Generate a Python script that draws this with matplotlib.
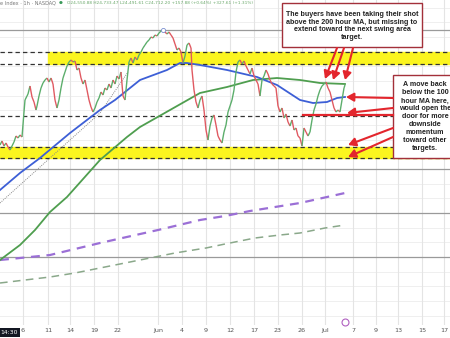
import numpy as np
import matplotlib
matplotlib.use("Agg")
import matplotlib.pyplot as plt
from matplotlib.collections import LineCollection
from matplotlib.patches import Rectangle

# chart units: x = horizontal position along the time axis, y = level (top = 0)
tick_x = [23, 48, 70, 94, 118, 158, 182, 206, 230, 254, 278, 302, 325, 353, 376, 398, 422, 444]
tick_labels = ["6", "11", "14", "19", "22", "Jun", "4", "9", "12", "17", "23", "26", "Jul",
               "7", "9", "13", "15", "17"]

price_x = [0, 2, 4, 6, 8, 10, 12, 14, 16, 18, 20, 22, 24, 25, 27, 28, 30, 32, 34, 36, 37, 39,
           41, 43, 45, 47, 49, 51, 53, 55, 57, 59, 61, 63, 65, 67, 69, 71, 73, 75, 77, 79, 81,
           83, 85, 87, 89, 91, 93, 95, 97, 99, 101, 103, 105, 107, 109, 111, 113, 115, 117,
           119, 121, 123, 125, 127, 129, 131, 133, 135, 137, 139, 141, 143, 145, 147, 149,
           151, 153, 155, 157, 159, 161, 163, 165, 167, 169, 171, 173, 175, 177, 179, 181,
           183, 185, 187, 189, 191, 192, 194, 196, 198, 200, 202, 204, 206, 208, 210, 212,
           214, 216, 218, 220, 222, 224, 226, 228, 230, 232, 234, 236, 238, 240, 242, 244,
           246, 248, 250, 252, 254, 256, 258, 260, 262, 264, 266, 268, 270, 272, 274, 276,
           278, 280, 282, 284, 286, 288, 290, 292, 294, 296, 298, 300, 302, 304, 306, 308,
           310, 312, 314, 316, 318, 320, 322, 324, 326, 328, 330, 332, 334, 336, 338, 340,
           342, 344, 345]
price_y = [145, 141, 146, 143, 147, 150, 146, 142, 136, 138, 135, 137, 112, 100, 96, 94, 86,
           97, 102, 110, 106, 96, 88, 83, 80, 78, 82, 78, 84, 100, 108, 100, 88, 78, 72, 66,
           62, 60, 62, 61, 70, 68, 78, 84, 80, 90, 100, 107, 112, 108, 102, 98, 92, 95, 88,
           90, 84, 88, 80, 84, 76, 79, 72, 96, 100, 80, 62, 58, 63, 57, 60, 55, 52, 48, 45,
           42, 40, 37, 38, 35, 36, 33, 31, 30, 32, 34, 32, 35, 38, 44, 50, 48, 52, 63, 56,
           45, 43, 48, 70, 90, 102, 108, 100, 96, 110, 130, 140, 126, 118, 115, 125, 136,
           140, 143, 132, 125, 112, 106, 100, 90, 72, 62, 60, 64, 61, 66, 70, 74, 68, 76, 80,
           84, 96, 80, 76, 70, 74, 80, 84, 86, 88, 106, 112, 108, 118, 114, 122, 126, 120,
           130, 128, 136, 138, 146, 128, 132, 136, 132, 120, 110, 104, 96, 90, 86, 84, 82,
           88, 92, 100, 108, 112, 110, 112, 100, 88, 85]

ma100_x = [0, 20, 40, 70, 100, 115, 140, 167, 180, 187, 200, 227, 257, 277, 300, 313, 327, 337, 345]
ma100_y = [190, 173, 158, 133, 110, 100, 80, 70, 63, 63, 65, 70, 77, 85, 100, 103, 102, 98, 97]

ma200_x = [0, 20, 35, 50, 67, 100, 127, 140, 170, 200, 227, 253, 277, 300, 320, 345]
ma200_y = [260, 245, 230, 212, 197, 160, 137, 127, 110, 93, 87, 80, 78, 80, 83, 84]

trend_x = [0, 100, 128]
trend_y = [203, 113, 72]

purple_x = [0, 50, 100, 158, 200, 225, 250, 300, 345]
purple_y = [260, 255, 243, 230, 220, 216, 211, 203, 193]

sage_x = [0, 50, 75, 100, 125, 150, 175, 206, 225, 255, 280, 300, 325, 345]
sage_y = [283, 277, 273, 268, 263, 258, 253, 248, 244, 238, 235, 233, 228, 225]

upper_zone = (52, 64)
lower_zone = (147, 158)
support_level = 116
gray_levels = [30, 169, 213, 257]

box1_text = "The buyers have been taking their shot\nabove the 200 hour MA, but missing to\nextend toward the next swing area\ntarget."
box2_text = "A move back\nbelow the 100\nhour MA here,\nwould open the\ndoor for more\ndownside\nmomentum\ntoward other\ntargets."

fig = plt.figure(figsize=(4.5, 3.38), dpi=100)
ax = fig.add_axes([0, 13 / 338, 1, 325 / 338])
ax.set_xlim(0, 450)
ax.set_ylim(325, 0)
for s in ax.spines.values():
    s.set_visible(False)

# grid
for gy in np.arange(7.6, 325, 14.67):
    ax.axhline(gy, color="#efefef", lw=0.7, zorder=0)
for tx in tick_x:
    ax.axvline(tx, color="#e4e4e4", lw=0.8, zorder=0)
for gy in gray_levels:
    ax.axhline(gy, color="#9a9a9a", lw=0.9, zorder=1)

# zones
ax.axhspan(upper_zone[0], upper_zone[1], xmin=48 / 450, xmax=1, color="#fbf51f", zorder=1)
ax.axhspan(lower_zone[0], lower_zone[1], color="#fbf51f", zorder=1)
for ly in [upper_zone[0], upper_zone[1], lower_zone[0], lower_zone[1], support_level]:
    ax.axhline(ly, color="#333333", lw=0.9, ls=(0, (3.5, 2.5)), zorder=2)

# long-term lines
ax.plot(purple_x, purple_y, color="#9b6fd6", lw=1.6, ls=(0, (4, 3)), zorder=2)
ax.plot(sage_x, sage_y, color="#8aa88a", lw=1.1, ls=(0, (5, 3.5)), zorder=2)
ax.plot(trend_x, trend_y, color="#888888", lw=0.7, ls=(0, (1, 1.2)), zorder=2)

# moving averages
ax.plot(ma200_x, ma200_y, color="#4f9e4f", lw=1.3, zorder=3)
ax.plot(ma100_x, ma100_y, color="#3d5fd6", lw=1.3, zorder=3)

# price candles
px = np.array(price_x, dtype=float)
py = np.array(price_y, dtype=float)
segs = [[(px[i - 1], py[i - 1]), (px[i], py[i])] for i in range(1, len(px))]
cols = ["#5cae6c" if py[i] <= py[i - 1] else "#e05a62" for i in range(1, len(px))]
ax.add_collection(LineCollection(segs, colors=cols, linewidths=1.0, zorder=4))
ax.plot([163], [30], marker="o", ms=3, mfc="white", mec="#7a8fd0", mew=0.6, zorder=5)

# annotations
red = "#e3262d"
ax.add_patch(Rectangle((282, 3), 140, 44, fc="white", ec="#a3303a", lw=1.0, zorder=6))
ax.text(352, 26, box1_text, ha="center", va="center", fontsize=5.1, fontweight="bold",
        family="Liberation Sans", color="#222222", linespacing=1.15, zorder=7)
ax.add_patch(Rectangle((393, 75), 70, 83, fc="white", ec="#a3303a", lw=1.0, zorder=6,
                       clip_on=False))
ax.text(425, 117, box2_text, ha="center", va="center", fontsize=5.1, fontweight="bold",
        family="Liberation Sans", color="#222222", linespacing=1.2, zorder=7)

arrows = [((337, 48), (325, 79)), ((344, 48), (333, 80)), ((353, 48), (345, 80)),
          ((393, 98), (346, 97)), ((393, 108), (347, 113)),
          ((393, 128), (348, 145)), ((393, 137), (348, 157))]
for (x0, y0), (x1, y1) in arrows:
    ax.annotate("", xy=(x1, y1), xytext=(x0, y0),
                arrowprops=dict(arrowstyle="-|>,head_length=0.45,head_width=0.25",
                                color=red, lw=1.5, shrinkA=0, shrinkB=0), zorder=8)
ax.plot([303, 393], [115, 115], color=red, lw=1.6, zorder=8)

# axis labels
ax.set_yticks([])
ax.set_xticks(tick_x, tick_labels)
ax.tick_params(axis="x", length=0, labelsize=4.6, labelcolor="#555555", pad=2)

fig.text(0.0, 3 / 338, "14:30", fontsize=4.4, color="white", va="bottom", ha="left",
         bbox=dict(boxstyle="square,pad=0.35", fc="#131722", ec="none"))
fig.text(0.0, 1 - 3 / 338, "e Index · 1h · NASDAQ", fontsize=3.6, color="#777777",
         va="center", ha="left")
fig.text(59 / 450, 1 - 3 / 338, "●", fontsize=3.2, color="#3a9a5a", va="center")
fig.text(67 / 450, 1 - 3 / 338,
         "O24,550.88 H24,733.47 L24,491.61 C24,712.20 +157.88 (+0.64%) +327.61 (+1.31%)",
         fontsize=3.1, color="#6aa86a", va="center", ha="left")
ax.plot([345], [-3 + 325], marker="o", ms=5, mfc="white", mec="#b060c0", mew=0.8,
        clip_on=False, zorder=9)

fig.savefig("out.png", dpi=100)
